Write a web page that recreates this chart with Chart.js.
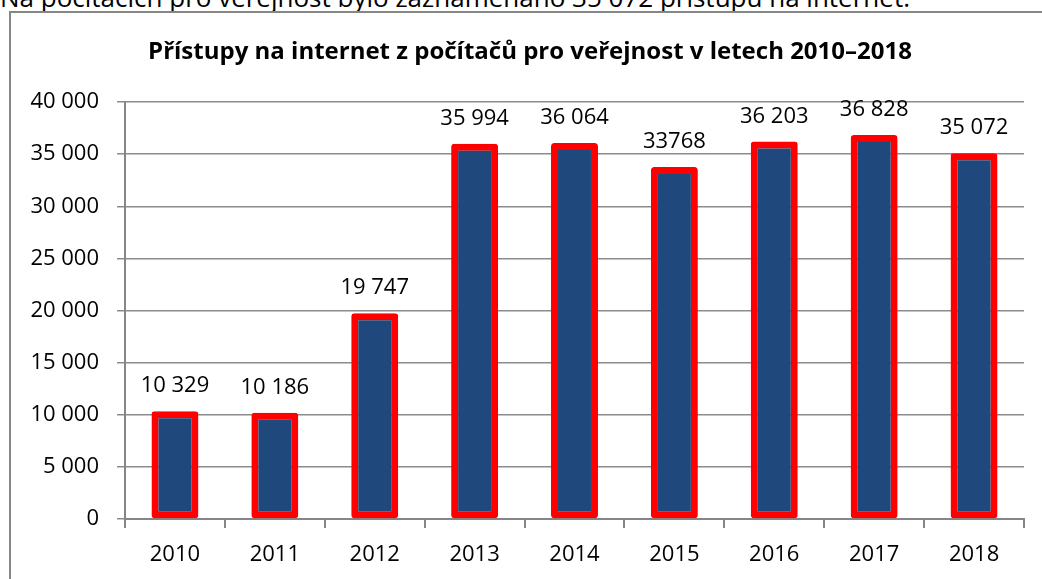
<!DOCTYPE html>
<html>
<head>
<meta charset="utf-8">
<script src="https://cdn.jsdelivr.net/npm/chart.js@4.4.1/dist/chart.umd.min.js"></script>
<style>
  html, body { margin: 0; padding: 0; background: #fff; overflow: hidden; }
  #wrap { position: relative; width: 1042px; height: 579px; }
  #c { position: absolute; left: 0; top: 0; }
  #frame { position: absolute; left: 9px; top: 11px; width: 1200px; height: 800px;
           border: 2px solid #868686; pointer-events: none; }
  #intro { position: absolute; left: 0px; top: -18px; font-family: "Open Sans", sans-serif;
           font-size: 26px; color: #000; white-space: nowrap; line-height: 30px; }
</style>
</head>
<body>
<div id="wrap">
  <div id="intro">Na počítačích pro veřejnost bylo zaznamenáno 35 072 přístupů na internet.</div>
  <canvas id="c" width="1042" height="579"></canvas>
  <div id="frame"></div>
</div>
<script>
const chartTitle = "Přístupy na internet z počítačů pro veřejnost v letech 2010–2018";
const years = ["2010", "2011", "2012", "2013", "2014", "2015", "2016", "2017", "2018"];
const accesses = [10329, 10186, 19747, 35994, 36064, 33768, 36203, 36828, 35072];
const valueLabels = ["10 329", "10 186", "19 747", "35 994", "36 064", "33768", "36 203", "36 828", "35 072"];
const yTicks = [0, 5000, 10000, 15000, 20000, 25000, 30000, 35000, 40000];

const FONT = '"Open Sans", sans-serif';

function fmt(v) {
  return String(v).replace(/\B(?=(\d{3})+(?!\d))/g, " ");
}

const titlePlugin = {
  id: 'customTitle',
  afterDraw(chart) {
    const ctx = chart.ctx;
    ctx.save();
    ctx.font = 'bold 24px ' + FONT;
    ctx.fillStyle = '#000';
    ctx.textAlign = 'center';
    ctx.textBaseline = 'alphabetic';
    ctx.fillText(chartTitle, 530, 59);
    ctx.restore();
  }
};

const labelPlugin = {
  id: 'valueLabels',
  afterDatasetsDraw(chart) {
    const ctx = chart.ctx;
    const meta = chart.getDatasetMeta(0);
    ctx.save();
    ctx.font = '22px ' + FONT;
    ctx.fillStyle = '#000';
    ctx.textAlign = 'center';
    ctx.textBaseline = 'alphabetic';
    meta.data.forEach((bar, i) => {
      ctx.fillText(valueLabels[i], bar.x, bar.y - 19);
    });
    ctx.restore();
  }
};

new Chart(document.getElementById('c'), {
  type: 'bar',
  data: {
    labels: years,
    datasets: [{
      data: accesses,
      backgroundColor: '#1F497D',
      borderColor: '#FF0000',
      borderWidth: 7,
      borderRadius: 3,
      borderSkipped: false,
      barPercentage: 0.47,
      categoryPercentage: 1.0
    }]
  },
  options: {
    responsive: false,
    animation: false,
    devicePixelRatio: 1,
    layout: { padding: { top: 102, right: 18, left: 0, bottom: 0 } },
    plugins: {
      legend: { display: false },
      title: { display: false },
      tooltip: { enabled: false }
    },
    scales: {
      x: {
        offset: true,
        afterFit(scale) { scale.height = 60; },
        grid: {
          offset: true,
          drawOnChartArea: false,
          drawTicks: true,
          tickLength: 9,
          color: '#868686',
          lineWidth: 2
        },
        border: { display: true, color: '#868686', width: 2 },
        ticks: {
          font: { family: FONT, size: 22 },
          color: '#000',
          padding: 14
        }
      },
      y: {
        min: 0,
        max: 40000,
        afterFit(scale) { scale.width = 125; },
        afterBuildTicks(scale) { scale.ticks = yTicks.map(v => ({ value: v })); },
        grid: {
          drawTicks: true,
          tickLength: 8,
          color: '#8c8c8c',
          lineWidth: 1.5
        },
        border: { display: true, color: '#868686', width: 2 },
        ticks: {
          font: { family: FONT, size: 22 },
          color: '#000',
          padding: 18,
          callback: (v) => fmt(v)
        }
      }
    }
  },
  plugins: [titlePlugin, labelPlugin]
});
</script>
</body>
</html>
